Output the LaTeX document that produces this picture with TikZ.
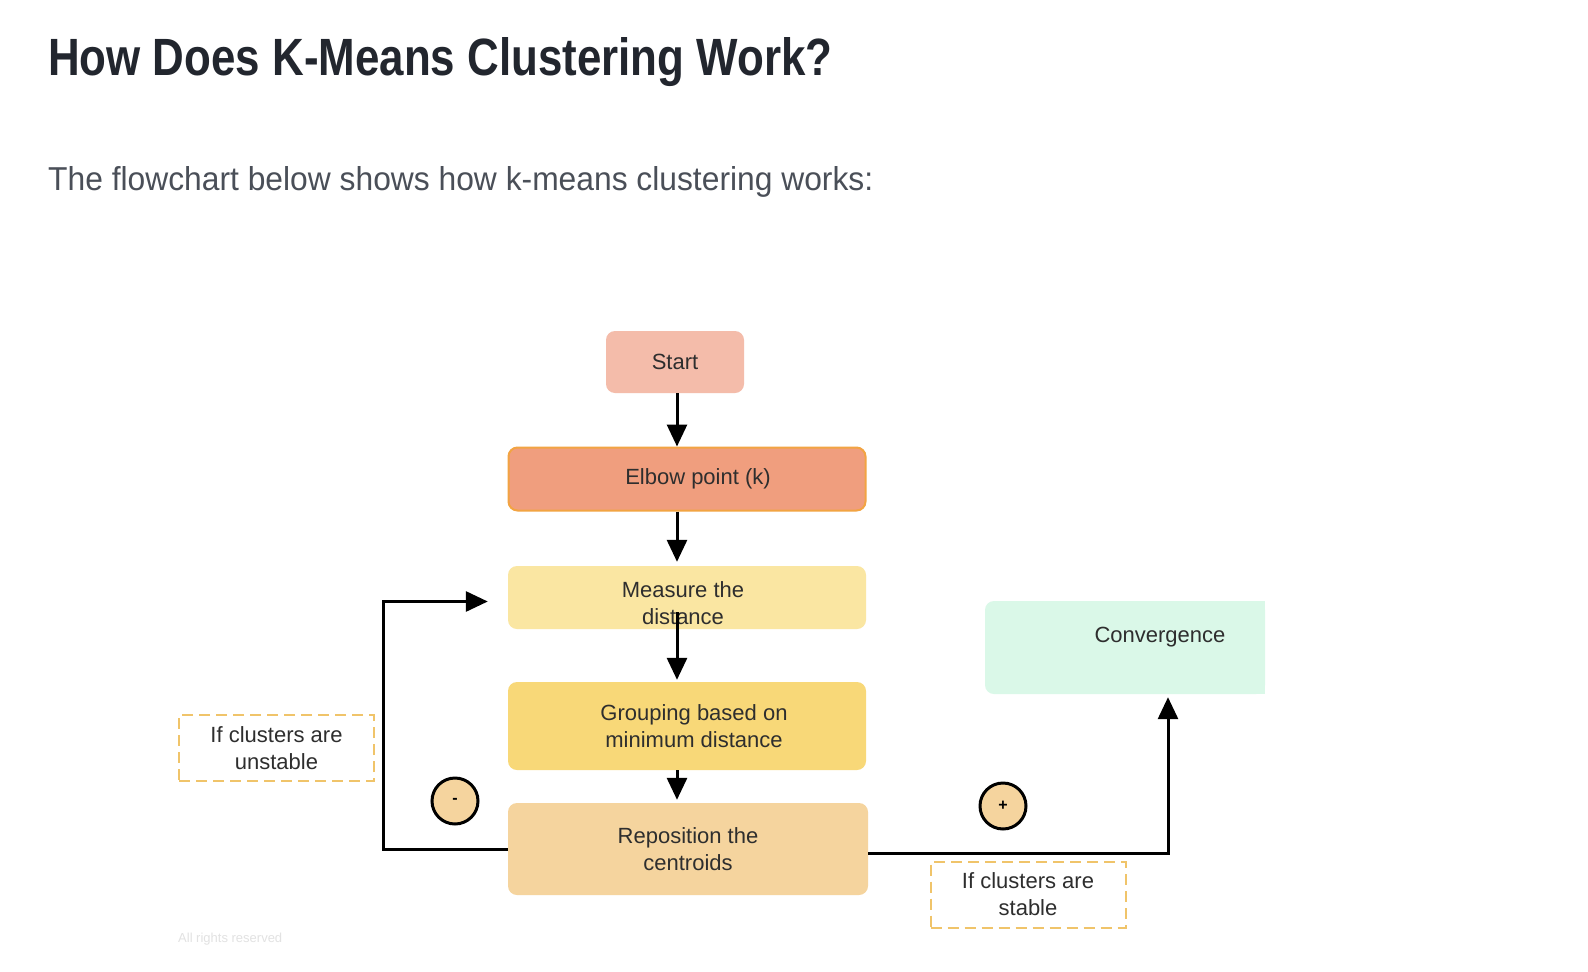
\documentclass[tikz,border=0pt]{standalone}
\usepackage{fontspec}
\setmainfont{Liberation Sans}
\usetikzlibrary{arrows.meta}
\definecolor{titlec}{HTML}{22262E}
\definecolor{subc}{HTML}{4A4F58}
\definecolor{txt}{HTML}{2E2E2E}
\definecolor{startc}{HTML}{F4BCAA}
\definecolor{elbowc}{HTML}{F09E7E}
\definecolor{elbowb}{HTML}{F2A443}
\definecolor{measc}{HTML}{FAE6A2}
\definecolor{groupc}{HTML}{F8D878}
\definecolor{repoc}{HTML}{F5D49E}
\definecolor{convc}{HTML}{DAF8E8}
\definecolor{dashc}{HTML}{F0C46A}
\definecolor{faint}{HTML}{E2E2E2}
\tikzset{
  box/.style={rounded corners=9pt, draw=none, text=txt, align=center,
    font=\fontsize{22}{27}\selectfont, inner sep=0pt},
  dbox/.style={draw=dashc, line width=2pt, dash pattern=on 11pt off 6pt,
    fill=white, text=txt, align=center, font=\fontsize{22}{27}\selectfont,
    minimum width=195pt, minimum height=66pt, inner sep=0pt},
  circ/.style={circle, draw=black, line width=3pt, fill=repoc,
    minimum size=46pt, inner sep=0pt, font=\fontsize{16}{16}\selectfont\bfseries},
  arr/.style={draw=black, line width=3pt, -{Triangle[length=22pt,width=20pt]}}
}
\begin{document}
\begin{tikzpicture}[x=1pt,y=-1pt]
\useasboundingbox[fill=white] (0,0) rectangle (1588,972);
% headings
\node[anchor=base west, inner sep=0pt, text=titlec] (title) at (48,75)
  {\resizebox{784pt}{38pt}{\bfseries How Does K-Means Clustering Work?}};
\node[anchor=base west, inner sep=0pt, text=subc] (sub) at (48,190)
  {\resizebox{825pt}{24pt}{The flowchart below shows how k-means clustering works:}};
% boxes
\node[box, fill=startc, minimum width=138pt, minimum height=62pt] (start) at (675,362) {Start};
\node[box, fill=elbowc, draw=elbowb, line width=2pt, minimum width=357pt, minimum height=63pt] (elbow) at (687,479) {\hspace*{22pt}Elbow point (k)};
\node[box, fill=measc, minimum width=358pt, minimum height=63pt] (meas) at (687,597.5) {};
\node[box, fill=none] (meast) at (683,603.5) {Measure the\\distance};
\node[box, fill=groupc, minimum width=358pt, minimum height=88pt] (group) at (687,726) {\hspace*{14pt}Grouping based on\\\hspace*{14pt}minimum distance};
\node[box, fill=repoc, minimum width=360pt, minimum height=92pt] (repo) at (688,849) {Reposition the\\centroids};
\node[box, fill=convc, minimum width=280pt, minimum height=93pt] (conv) at (1125,647.5) {};
\fill[convc] (1245,601) rectangle (1265,694);
\node[box, fill=none] (convt) at (1160,637) {Convergence};
% dashed labels
\node[dbox] (unst) at (276.5,748) {If clusters are\\unstable};
\node[dbox] (stab) at (1028,894.5) {If clusters are\\stable};
% circles
\node[circ] (minus) at (455,801) {-};
\node[circ] (plus) at (1003,806) {+};
% connectors
\coordinate (ax) at (677,0);
\coordinate (lx) at (383,0);
\coordinate (rx) at (1168,0);
\draw[arr] (start.south -| ax) -- (elbow.north -| ax);
\draw[arr] (elbow.south -| ax) -- ([yshift=4pt]meas.north -| ax);
\draw[arr] ([yshift=17pt]meas.south -| ax) -- ([yshift=2pt]group.north -| ax);
\draw[arr] (group.south -| ax) -- ([yshift=3pt]repo.north -| ax);
\draw[arr] (repo.west) -- (repo.west -| lx) |- ([xshift=-20pt,yshift=-4pt]meas.west);
\draw[arr] ([yshift=-4pt]repo.east) -| ([yshift=-3pt]conv.south -| rx);
% faint footer
\node[anchor=base west, inner sep=0pt, text=faint, font=\fontsize{13}{13}\selectfont] (foot) at (178,942) {All rights reserved};
\end{tikzpicture}
\end{document}
